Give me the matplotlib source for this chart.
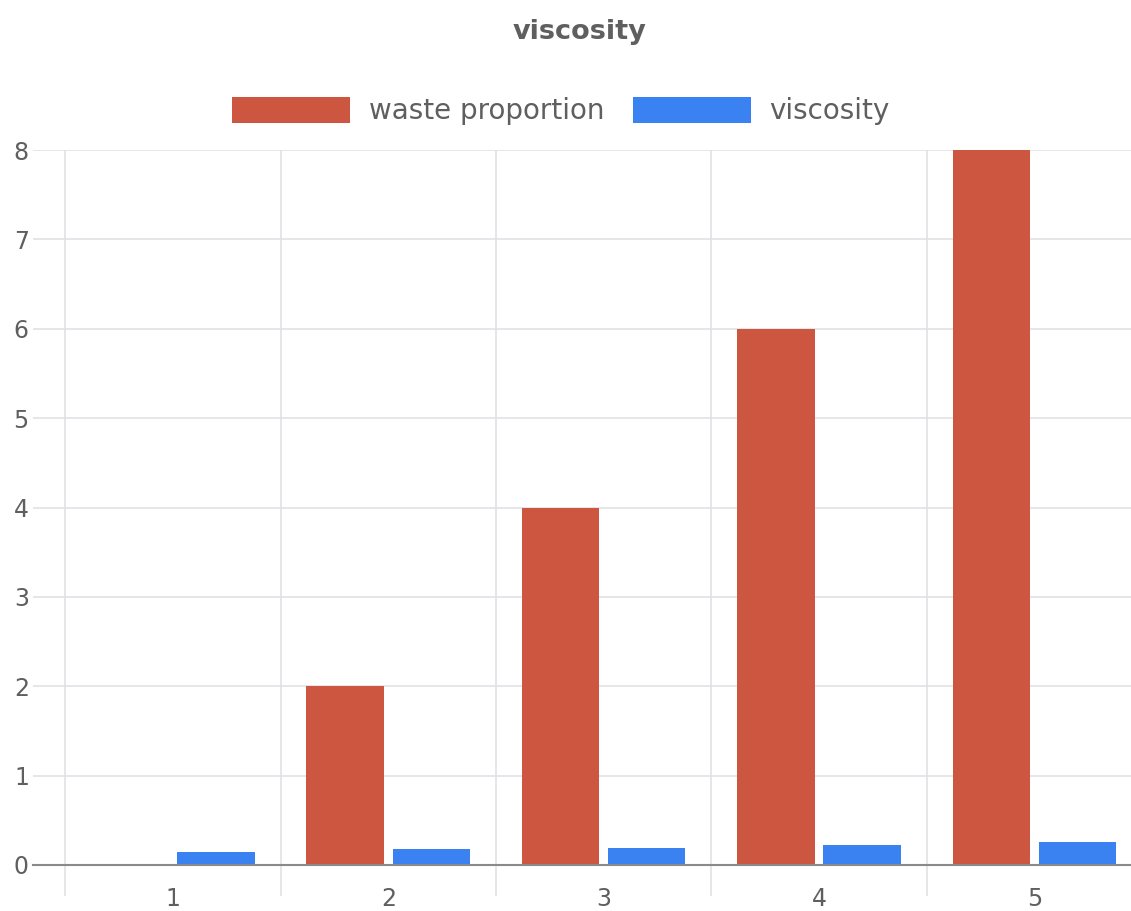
import matplotlib.pyplot as plt
import numpy as np

plt.rcParams['font.family'] = ['DejaVu Sans']

# данные
categories = ['1', '2', '3', '4', '5']
waste_proportion = [0, 2, 4, 6, 8]
viscosity = [0.14, 0.18, 0.19, 0.22, 0.26]

red = '#cc5640'
blue = '#3a81f1'
grid_col = '#e2e2e6'
text_col = '#5f5f5f'

fig = plt.figure(figsize=(11.31, 9.11), dpi=100)
ax = fig.add_axes([33 / 1131, 1 - 865 / 911, (1142 - 33) / 1131, (865 - 150) / 911])

x = np.arange(1, len(categories) + 1)
w = 0.36
ax.bar(x - 0.2, waste_proportion, w, color=red, label='waste proportion', zorder=3)
ax.bar(x + 0.2, viscosity, w, color=blue, label='viscosity', zorder=3)

ax.set_xlim(0.35, len(categories) + 0.5)
ax.set_ylim(0, 8)
ax.set_yticks(range(0, 9))
ax.set_xticks(x)
ax.set_xticklabels(categories)

# границы категорий
ax.set_xticks(np.arange(len(categories) + 1) + 0.5, minor=True)
ax.grid(which='minor', axis='x', color=grid_col, linewidth=1.2, zorder=0)
ax.grid(which='major', axis='y', color=grid_col, linewidth=1.2, zorder=0)
ax.tick_params(axis='x', which='minor', length=22, color=grid_col, width=1.2)
ax.tick_params(axis='x', which='major', length=0, pad=16, labelsize=17, labelcolor=text_col)
ax.tick_params(axis='y', length=0, pad=3, labelsize=17, labelcolor=text_col)

for s in ['top', 'right', 'left']:
    ax.spines[s].set_visible(False)
ax.spines['bottom'].set_color('#8a8a8a')
ax.spines['bottom'].set_linewidth(1.5)
ax.spines['bottom'].set_zorder(4)

fig.suptitle('viscosity', x=579 / 1131, y=1 - 32 / 911, va='center',
             fontsize=19.5, fontweight='bold', color=text_col)
fig.legend(loc='center', bbox_to_anchor=(561 / 1131, 1 - 111 / 911), ncol=2, frameon=False,
           fontsize=20, labelcolor=text_col, handlelength=4.25, handleheight=1.05,
           handletextpad=0.68, columnspacing=1.0)

plt.savefig('out.png', dpi=100)
